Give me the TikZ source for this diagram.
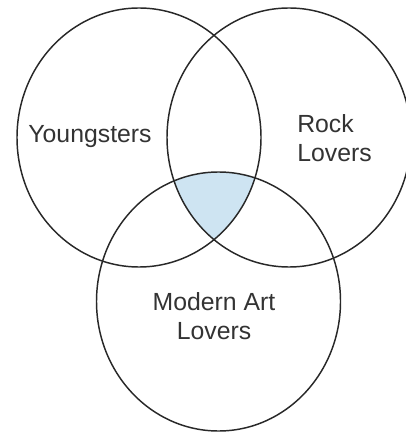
\documentclass[tikz,border=0pt]{standalone}
\usepackage{fontspec}
\setmainfont{Liberation Sans}
\definecolor{setline}{RGB}{40,40,40}
\definecolor{settext}{RGB}{51,51,51}
\definecolor{overlap}{RGB}{206,228,242}
\tikzset{
  setcircle/.style={draw=setline, line width=1.1pt},
  setlabel/.style={text=settext, inner sep=0pt, font=\fontsize{18.6}{21.75}\selectfont},
}
\begin{document}
\begin{tikzpicture}[x=0.75pt, y=-0.75pt]
    \useasboundingbox (0,0) rectangle (405,434);
    % centres of the three sets (px, y down)
    \coordinate (young) at (139,137.5);
    \coordinate (rock) at (289,137.5);
    \coordinate (art) at (218.5,301.5);

    % shaded common region
    \begin{scope}
        \clip (young) ellipse [x radius=122, y radius=129.5];
        \clip (rock) ellipse [x radius=122, y radius=129.5];
        \fill[overlap] (art) ellipse [x radius=122, y radius=129.5];
    \end{scope}

    % circles
    \foreach \c in {young, rock, art} {
        \draw[setcircle] (\c) ellipse [x radius=122, y radius=129.5];
    }

    % labels
    \node[setlabel] (youngLabel) at (90,136.5) {Youngsters};
    \node[setlabel, anchor=west, align=left] (rockLabel) at (297,138.5) {Rock\\Lovers};
    \node[setlabel, align=center] (artLabel) at (214,316) {Modern Art\\Lovers};
\end{tikzpicture}
\end{document}
